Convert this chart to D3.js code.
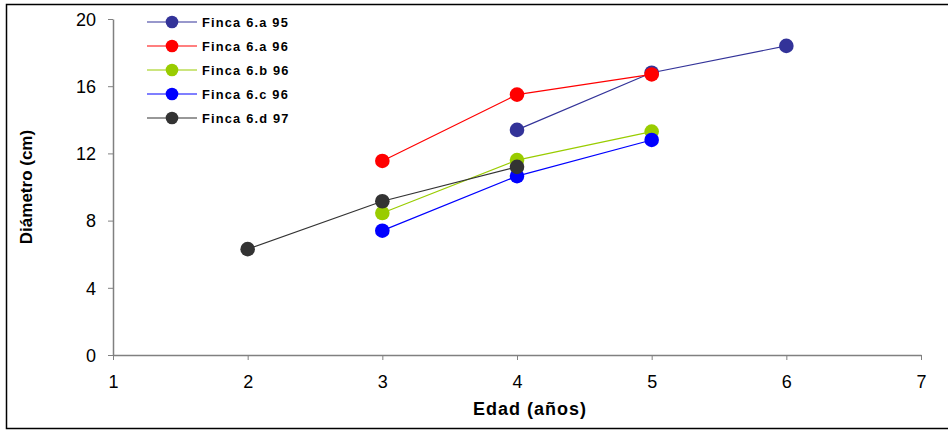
<!DOCTYPE html>
<html><head><meta charset="utf-8">
<script src="https://cdn.jsdelivr.net/npm/d3@7"></script>
<style>body{margin:0;background:#fff}svg{display:block}</style>
</head><body>
<script>
const seriesNames = ["Finca 6.a 95","Finca 6.a 96","Finca 6.b 96","Finca 6.c 96","Finca 6.d 97"];
const seriesColors = ["#333399","#ff0000","#99cc00","#0000ff","#333333"];
const ages_a95 = [4,5,6];      const diam_a95 = [13.4,16.8,18.4];
const ages_a96 = [3,4,5];      const diam_a96 = [11.55,15.5,16.7];
const ages_b96 = [3,4,5];      const diam_b96 = [8.45,11.6,13.3];
const ages_c96 = [3,4,5];      const diam_c96 = [7.4,10.65,12.8];
const ages_d97 = [2,3,4];      const diam_d97 = [6.3,9.15,11.2];
const xTicks = [1,2,3,4,5,6,7];
const yTicks = [0,4,8,12,16,20];

const series = [
  {name:seriesNames[0], color:seriesColors[0], x:ages_a95, y:diam_a95},
  {name:seriesNames[1], color:seriesColors[1], x:ages_a96, y:diam_a96},
  {name:seriesNames[2], color:seriesColors[2], x:ages_b96, y:diam_b96},
  {name:seriesNames[3], color:seriesColors[3], x:ages_c96, y:diam_c96},
  {name:seriesNames[4], color:seriesColors[4], x:ages_d97, y:diam_d97}
];

const W=948,H=431;
const svg=d3.select("body").append("svg").attr("width",W).attr("height",H);
svg.append("rect").attr("x",6.5).attr("y",4.5).attr("width",960).attr("height",424)
  .attr("fill","#fff").attr("stroke","#000").attr("stroke-width",1.5);

const x=d3.scaleLinear().domain([1,7]).range([113,921]);
const y=d3.scaleLinear().domain([0,20]).range([355,19]);
const axisColor="#808080";
const font="Arial, 'Liberation Sans', sans-serif";

const gx=svg.append("g").attr("transform","translate(0,355)")
  .call(d3.axisBottom(x).tickValues(xTicks).tickSize(5).tickSizeOuter(0).tickPadding(15).tickFormat(d3.format("d")));
const gy=svg.append("g").attr("transform","translate(113,0)")
  .call(d3.axisLeft(y).tickValues(yTicks).tickSize(5).tickSizeOuter(0).tickPadding(12).tickFormat(d3.format("d")));
[gx,gy].forEach(g=>{
  g.select(".domain").attr("stroke",axisColor).attr("stroke-width",1.5);
  g.selectAll(".tick line").attr("stroke",axisColor).attr("stroke-width",1);
  g.selectAll("text").attr("font-family",font).attr("font-size",18).attr("fill","#000");
});
gy.selectAll("text").attr("dy","0.35em");

svg.append("text").attr("x",530).attr("y",415).attr("text-anchor","middle")
  .attr("font-family",font).attr("font-weight","bold").attr("font-size",18)
  .attr("letter-spacing",1).text("Edad (años)");
svg.append("text").attr("transform","translate(32,187) rotate(-90)").attr("text-anchor","middle")
  .attr("font-family",font).attr("font-weight","bold").attr("font-size",17).text("Diámetro (cm)");

const line=d3.line().x(d=>x(d[0])).y(d=>y(d[1]));
series.forEach(s=>{
  const pts=s.x.map((v,i)=>[v,s.y[i]]);
  svg.append("path").datum(pts).attr("d",line).attr("fill","none")
    .attr("stroke",s.color).attr("stroke-width",1.2);
  svg.selectAll(null).data(pts).enter().append("circle")
    .attr("cx",d=>x(d[0])).attr("cy",d=>y(d[1])).attr("r",7.3).attr("fill",s.color);
});

const leg=svg.append("g");
series.forEach((s,i)=>{
  const ly=22+i*24;
  leg.append("line").attr("x1",147).attr("x2",197).attr("y1",ly).attr("y2",ly)
    .attr("stroke",s.color).attr("stroke-width",1.2);
  leg.append("circle").attr("cx",172).attr("cy",ly).attr("r",6.3).attr("fill",s.color);
  leg.append("text").attr("x",202).attr("y",ly).attr("dy","0.36em")
    .attr("font-family",font).attr("font-weight","bold").attr("font-size",12.8)
    .attr("letter-spacing",1.2).text(s.name);
});
</script>
</body></html>
